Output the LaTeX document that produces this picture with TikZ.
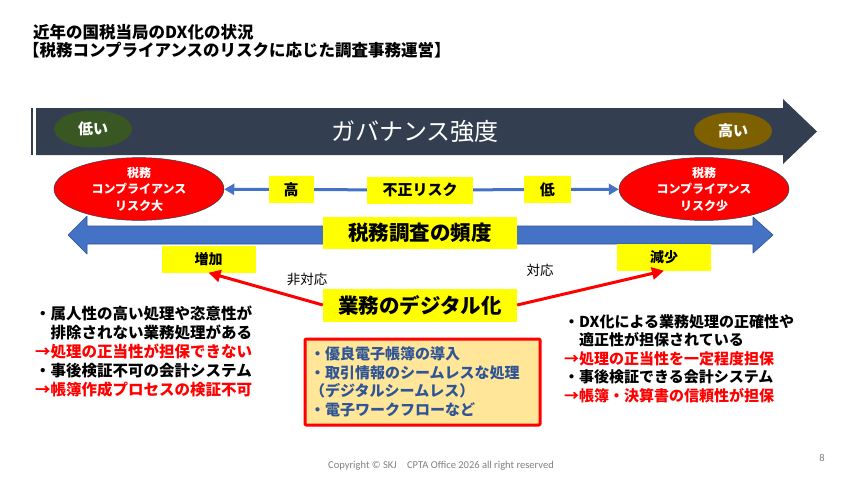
\documentclass[tikz,border=0pt]{standalone}
\usepackage{fontspec}
\setmainfont{Noto Sans CJK JP}
\newfontfamily\footfont{Carlito}
\usepackage{xcolor}
\usetikzlibrary{arrows.meta,shapes.geometric}
\definecolor{dxBanner}{HTML}{333F50}
\definecolor{dxLow}{HTML}{385723}
\definecolor{dxHigh}{HTML}{7F6000}
\definecolor{dxBlue}{HTML}{4472C4}
\definecolor{dxBlueEdge}{HTML}{2F528F}
\definecolor{dxYellow}{HTML}{FFFF00}
\definecolor{dxBox}{HTML}{FFE699}
\definecolor{dxBoxText}{HTML}{2F5597}
\definecolor{dxRed}{HTML}{FF0000}
\definecolor{dxGray}{HTML}{7F7F7F}
\tikzset{
  dx diagram/.style={x=1pt, y=-1pt, line join=round},
  dx title/.style={inner sep=0pt, font=\bfseries\fontsize{16.5}{19}\selectfont},
  dx level/.style={ellipse, minimum width=78pt, minimum height=37pt, inner sep=0pt,
    text=white, font=\bfseries\fontsize{15}{18}\selectfont},
  dx banner text/.style={text=white, font=\fontsize{24}{28}\selectfont},
  dx risk/.style={ellipse, fill=dxRed, draw=dxBanner, line width=0.5pt,
    minimum width=170pt, minimum height=50pt, inner sep=0pt, align=center,
    text=white, font=\bfseries\fontsize{12}{16.5}\selectfont},
  dx tag/.style={fill=dxYellow, inner sep=0pt, font=\bfseries\fontsize{15}{18}\selectfont},
  dx tag big/.style={dx tag, minimum width=194pt, font=\bfseries\fontsize{20.5}{24}\selectfont},
  dx tag small/.style={dx tag, minimum width=94pt, minimum height=27pt,
    font=\bfseries\fontsize{14}{17}\selectfont},
  dx line/.style={draw=dxBlue, line width=3pt, -{Triangle[length=10pt,width=11pt]}},
  dx red arrow/.style={draw=dxRed, line width=3pt, -{Triangle[length=12pt,width=12pt]}},
  dx plain/.style={inner sep=0pt, font=\fontsize{13.5}{16}\selectfont},
  dx note/.style={inner sep=0pt, align=left, font=\bfseries\fontsize{15.5}{19}\selectfont},
  dx measure/.style={draw=dxRed, line width=3pt, fill=dxBox, rounded corners=1pt,
    text width=225pt, inner xsep=5pt, minimum height=86pt, align=left,
    text=dxBoxText, font=\bfseries\fontsize{15}{18.5}\selectfont},
  dx footer/.style={inner sep=0pt, text=dxGray, font=\footfont\fontsize{10.5}{12}\selectfont}
}
\begin{document}
\begin{tikzpicture}[dx diagram]
\useasboundingbox (0,0) rectangle (850,480);
% titles
\node[dx title,anchor=west] (title1) at (33,32) {近年の国税当局のDX化の状況};
\node[dx title,anchor=west] (title2) at (23,50) {【税務コンプライアンスのリスクに応じた調査事務運営】};
% governance banner
\fill[dxBanner] (31,108) rectangle (33,155);
\fill[dxBanner] (36,108) -- (783,108) -- (783,99) -- (817,131.5) -- (783,164)
  -- (783,155) -- (36,155) -- cycle;
\node[dx level,fill=dxLow] (low) at (93,129) {低い};
\node[dx level,fill=dxHigh] (high) at (733,131) {高い};
\node[dx banner text] (gov) at (415,131) {ガバナンス強度};
% compliance risk
\node[dx risk] (riskL) at (139,189) {税務\\コンプライアンス\\リスク大};
\node[dx risk] (riskS) at (704,189) {税務\\コンプライアンス\\リスク少};
\node[dx tag,minimum width=106pt,minimum height=27pt] (fraud) at (420,190) {不正リスク};
\draw[dx line] (fraud) -- node[dx tag,pos=0.53,minimum width=45pt,minimum height=27pt] (hi) {高} (riskL);
\draw[dx line] (fraud) -- node[dx tag,pos=0.51,minimum width=47pt,minimum height=27pt] (lo) {低} (riskS);
% audit frequency
\fill[dxBlue,draw=dxBlueEdge,line width=0.6pt] (68,235) -- (87,216) -- (87,226) -- (753,226)
  -- (753,217) -- (773,235) -- (753,253) -- (753,244) -- (87,244) -- (87,254) -- cycle;
\node[dx tag big,minimum height=32pt] (freq) at (420,233) {税務調査の頻度};
\node[dx tag small] (inc) at (208.5,259) {増加};
\node[dx tag small] (dec) at (664,257) {減少};
% digitalisation
\node[dx tag big,minimum height=33pt] (biz) at (420,305) {業務のデジタル化};
\draw[dx red arrow] (biz.west) -- (inc.south);
\draw[dx red arrow] (biz.east) -- (dec.south);
\node[dx plain] (nonfit) at (307,279) {非対応};
\node[dx plain] (fit) at (540,270) {対応};
% notes
\node[dx note,anchor=north west] (leftnote) at (35,306) {・属人性の高い処理や恣意性が\\
  \phantom{・}排除されない業務処理がある\\
  \textcolor{dxRed}{→処理の正当性が担保できない}\\
  ・事後検証不可の会計システム\\
  \textcolor{dxRed}{→帳簿作成プロセスの検証不可}};
\node[dx note,anchor=north west,font=\bfseries\fontsize{15}{18.5}\selectfont] (rightnote) at (564,314) {・DX化による業務処理の正確性や\\
  \phantom{・}適正性が担保されている\\
  \textcolor{dxRed}{→処理の正当性を一定程度担保}\\
  ・事後検証できる会計システム\\
  \textcolor{dxRed}{→帳簿・決算書の信頼性が担保}};
\node[dx measure] (measure) at (422.5,382) {・優良電子帳簿の導入\\
  ・取引情報のシームレスな処理\\
  （デジタルシームレス）\\
  ・電子ワークフローなど};
% footer
\node[dx footer] (copy) at (441,466) {Copyright © SKJ\quad CPTA Office 2026 all right reserved};
\node[dx footer] (page) at (822,458) {8};
\end{tikzpicture}
\end{document}
